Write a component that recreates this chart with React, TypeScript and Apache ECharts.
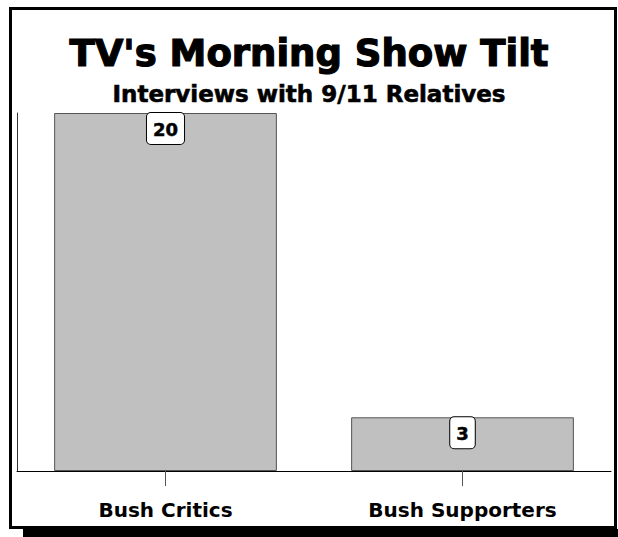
import React, { useEffect, useRef } from "react";
import * as echarts from "echarts";

const categories = ["Bush Critics", "Bush Supporters"];
const interviews = [20, 3];
const titleText = "TV's Morning Show Tilt";
const subtitleText = "Interviews with 9/11 Relatives";

export default function App() {
  const ref = useRef<HTMLDivElement>(null);
  useEffect(() => {
    if (!ref.current) return;
    const chart = echarts.init(ref.current, undefined, { renderer: "svg" });
    const font = "'DejaVu Sans', 'Liberation Sans', Arial, sans-serif";
    chart.setOption({
      animation: false,
      backgroundColor: "#ffffff",
      title: [
        {
          text: titleText,
          left: "center",
          top: 30,
          textStyle: {
            fontFamily: font,
            fontWeight: "bold",
            fontSize: 37,
            color: "#000",
            textBorderColor: "#000",
            textBorderWidth: 1.2,
          },
        },
        {
          text: subtitleText,
          left: "center",
          top: 77,
          textStyle: {
            fontFamily: font,
            fontWeight: "bold",
            fontSize: 23,
            color: "#000",
            textBorderColor: "#000",
            textBorderWidth: 0.6,
          },
        },
      ],
      graphic: [
        {
          type: "rect",
          shape: { x: 23, y: 529, width: 595, height: 8 },
          style: { fill: "#000" },
          silent: true,
        },
        {
          type: "rect",
          shape: { x: 10.5, y: 8.5, width: 605, height: 519 },
          style: { fill: "none", stroke: "#000", lineWidth: 3 },
          silent: true,
        },
      ],
      grid: { left: 17, right: 7, top: 113, bottom: 66, containLabel: false },
      xAxis: {
        type: "category",
        data: categories,
        axisLine: { show: true, lineStyle: { color: "#000", width: 1 } },
        axisTick: { show: true, alignWithLabel: true, length: 15, lineStyle: { color: "#555" } },
        axisLabel: {
          fontFamily: font,
          fontWeight: "bold",
          fontSize: 20,
          color: "#000",
          margin: 29,
        },
      },
      yAxis: {
        type: "value",
        min: 0,
        max: 20,
        axisLine: { show: true, lineStyle: { color: "#333", width: 1 } },
        axisTick: { show: false },
        axisLabel: { show: false },
        splitLine: { show: false },
      },
      series: [
        {
          type: "bar",
          data: interviews,
          barCategoryGap: "25%",
          itemStyle: { color: "#c0c0c0", borderColor: "#555", borderWidth: 1 },
          label: {
            show: true,
            position: "insideTop",
            distance: 0,
            fontFamily: font,
            fontWeight: "bold",
            fontSize: 18,
            color: "#000",
            textBorderColor: "#000",
            textBorderWidth: 0.5,
            backgroundColor: "#fff",
            borderColor: "#000",
            borderWidth: 1,
            borderRadius: 4,
            padding: [7, 6, 6, 6],
          },
        },
      ],
    });
    return () => chart.dispose();
  }, []);
  return (
    <div
      ref={ref}
      style={{ position: "absolute", left: 0, top: 0, width: 618, height: 537 }}
    />
  );
}
